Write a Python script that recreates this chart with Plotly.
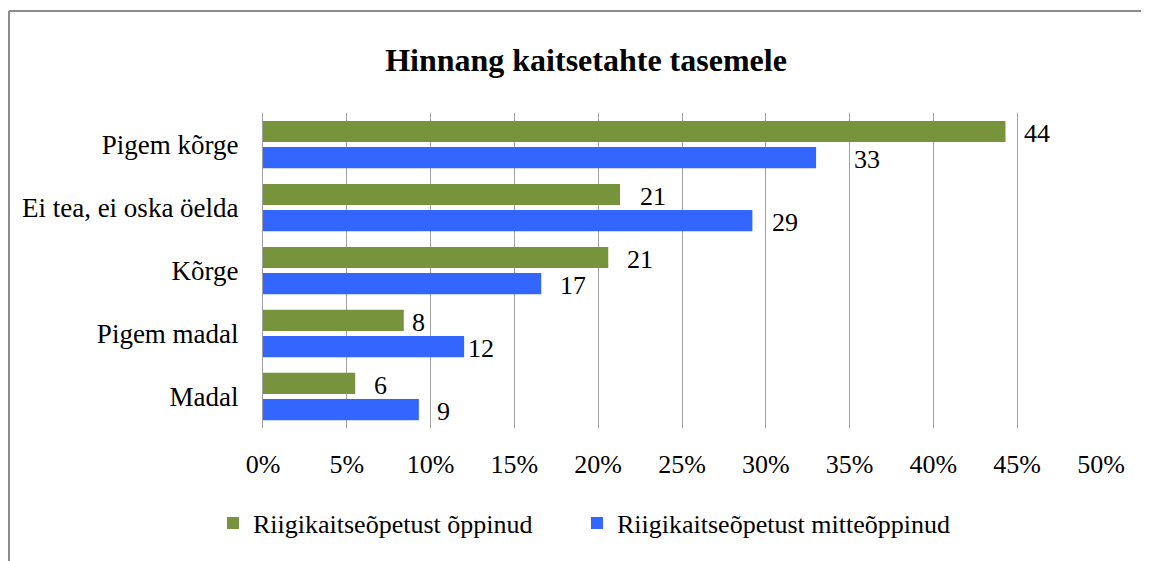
import plotly.graph_objects as go

categories = ["Pigem kõrge", "Ei tea, ei oska öelda", "Kõrge", "Pigem madal", "Madal"]
series_names = ["Riigikaitseõpetust õppinud", "Riigikaitseõpetust mitteõppinud"]
oppinud = [44.3, 21.3, 20.6, 8.4, 5.5]
mitteoppinud = [33.0, 29.2, 16.6, 12.0, 9.3]
oppinud_labels = ["44", "21", "21", "8", "6"]
mitteoppinud_labels = ["33", "29", "17", "12", "9"]
tick_values = [0, 5, 10, 15, 20, 25, 30, 35, 40, 45, 50]
tick_labels = ["0%", "5%", "10%", "15%", "20%", "25%", "30%", "35%", "40%", "45%", "50%"]

# label offsets (style, in px)
oppinud_shift = [17, 18, 17, 6, 17]
mitteoppinud_shift = [36, 18, 17, 2, 16]

GREEN = "#77933C"
BLUE = "#3366FF"
FONT = "Liberation Serif, Times New Roman, serif"

# the page body adds an 8px margin; layout coordinates below compensate
OFF = 8
W, H = 1149, 561
L, R, T, B = 263 - OFF, 56, 113 - OFF, 141
PW, PH = W - L - R, H - T - B

fig = go.Figure()
fig.add_trace(go.Bar(y=categories, x=oppinud, orientation="h", name=series_names[0],
                     marker=dict(color=GREEN, line=dict(width=0)), legend="legend"))
fig.add_trace(go.Bar(y=categories, x=mitteoppinud, orientation="h", name=series_names[1],
                     marker=dict(color=BLUE, line=dict(width=0)), legend="legend2"))

bargap, bargroupgap = 0.17, 0.19
slot = (1 - bargap) / 2
annotations = []
for i, c in enumerate(categories):
    for k, (vals, labs, shifts) in enumerate([(oppinud, oppinud_labels, oppinud_shift),
                                              (mitteoppinud, mitteoppinud_labels, mitteoppinud_shift)]):
        off = (-slot / 2) if k == 0 else (slot / 2)
        annotations.append(dict(
            x=vals[i], y=i + off, xref="x", yref="y", text=labs[i], showarrow=False,
            xanchor="left", yanchor="middle", xshift=shifts[i], yshift=-2,
            font=dict(family=FONT, size=26, color="#000000")))

def px_x(p):
    return (p - L) / PW

def px_y(p):
    return (H - B - p) / PH

shapes = [
    dict(type="line", xref="paper", yref="paper", x0=px_x(1), x1=px_x(1), y0=px_y(3), y1=px_y(580),
         line=dict(color="#8C8C8C", width=2)),
    dict(type="line", xref="paper", yref="paper", x0=px_x(1), x1=px_x(1180), y0=px_y(3), y1=px_y(3),
         line=dict(color="#8C8C8C", width=2)),
]

legend_common = dict(orientation="h", xref="container", yref="container", xanchor="left",
                     y=1 - (523 - OFF) / H, yanchor="middle", font=dict(family=FONT, size=26),
                     itemwidth=30, bgcolor="rgba(0,0,0,0)")

fig.update_layout(
    width=W, height=H,
    margin=dict(l=L, r=R, t=T, b=B, autoexpand=False),
    paper_bgcolor="white", plot_bgcolor="white",
    barmode="group", bargap=bargap, bargroupgap=bargroupgap,
    title=dict(text="<b>Hinnang kaitsetahte tasemele</b>", x=(586 - OFF) / W, xref="container",
               xanchor="center", y=1 - (60 - OFF) / H, yref="container", yanchor="middle",
               font=dict(family=FONT, size=32, color="#000000")),
    font=dict(family=FONT, size=26, color="#000000"),
    showlegend=True,
    legend=dict(x=(227 - OFF - 14) / W, **legend_common),
    legend2=dict(x=(591 - OFF - 14) / W, **legend_common),
    xaxis=dict(range=[0, 50], tickvals=tick_values, ticktext=tick_labels, showgrid=True,
               gridcolor="#A0A0A0", gridwidth=1, zeroline=False, showline=False, ticks="",
               tickfont=dict(family=FONT, size=26), ticklabelstandoff=18, fixedrange=True),
    yaxis=dict(autorange="reversed", showgrid=False, zeroline=False, showline=True,
               linecolor="#A0A0A0", linewidth=1, ticks="", ticklabelstandoff=18,
               tickfont=dict(family=FONT, size=27), fixedrange=True),
    annotations=annotations,
    shapes=shapes,
)

fig.write_html("out.html")
